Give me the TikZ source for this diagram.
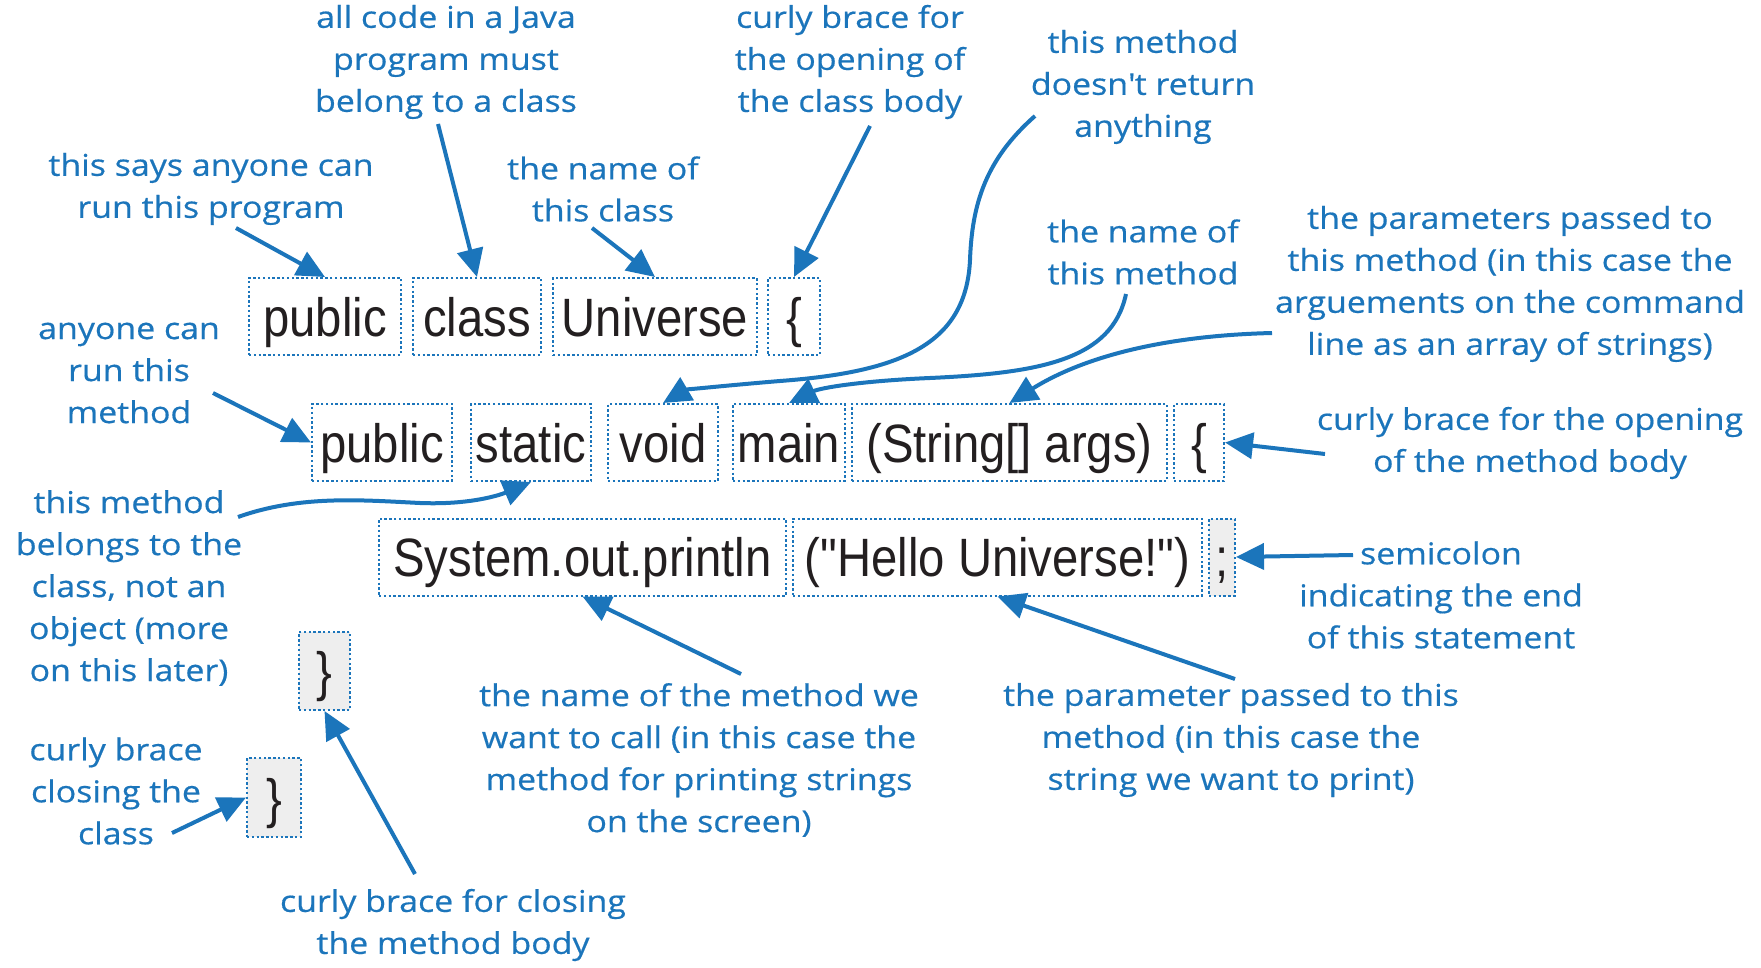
\documentclass[tikz,border=0pt]{standalone}
\usepackage{fontspec}
\setmainfont[FakeStretch=1.13, FakeBold=0.5]{Open Sans}
\newfontfamily\codefont[FakeStretch=0.875]{Liberation Sans}
\usetikzlibrary{arrows.meta}
\definecolor{bluepen}{RGB}{27,117,187}
\definecolor{ink}{RGB}{35,31,32}
\definecolor{shade}{RGB}{238,238,238}

\begin{document}
\begin{tikzpicture}[x=1pt,y=-1pt,
  codebox/.style={draw=bluepen, line width=2pt, dash pattern=on 2.4pt off 2.4pt,
    fill=white, inner sep=0pt, minimum height=77pt, text=ink,
    font=\codefont\fontsize{54}{60}\selectfont, text height=39pt, text depth=0pt},
  graybox/.style={codebox, fill=shade},
  remark/.style={text=bluepen, align=center, inner sep=0pt,
    font=\fontsize{30}{42}\selectfont},
  ptr/.style={draw=bluepen, line width=4pt, -{Triangle[length=28pt,width=26pt]}},
]
\useasboundingbox[fill=white] (0,0) rectangle (1761,968);

% ---- code boxes ----
% class header
\node[codebox, minimum width=152pt] (pub1) at (325,316.5) {public};
\node[codebox, minimum width=128pt] (cls)  at (477,316.5) {class};
\node[codebox, minimum width=204pt] (uni)  at (655,316.5) {Universe};
\node[codebox, minimum width=52pt]  (lb1)  at (794,316.5) {\{};
% method header
\node[codebox, minimum width=140pt] (pub2)  at (382,442.5) {public};
\node[codebox, minimum width=120pt] (stat)  at (531,442.5) {static};
\node[codebox, minimum width=110pt] (void)  at (663,442.5) {void};
\node[codebox, minimum width=112pt] (mainm) at (789,442.5) {main};
\node[codebox, minimum width=315pt] (args)  at (1009.5,442.5) {(String[] args)};
\node[codebox, minimum width=50pt]  (lb2)   at (1199,442.5) {\{};
% statement
\node[codebox, minimum width=407pt] (sys)   at (582.5,557) {System.out.println};
\node[codebox, minimum width=409pt] (hello) at (997.5,557) {("Hello Universe!")};
\node[graybox, minimum width=26pt]  (semi)  at (1222,557) {;};
% closing braces
\node[graybox, minimum width=51pt, minimum height=78pt] (rb1) at (324.5,671) {\}};
\node[graybox, minimum width=54pt, minimum height=79pt] (rb2) at (274,797.5) {\}};

% ---- notes ----
\node[remark] (nJava)   at (446,62)   {all code in a Java\\program must\\belong to a class};
\node[remark] (nBrace1) at (850,62)   {curly brace for\\the opening of\\the class body};
\node[remark] (nVoid)   at (1143,87)  {this method\\doesn\textquotesingle t return\\anything};
\node[remark] (nPublic) at (211,189)  {this says anyone can\\run this program};
\node[remark] (nName)   at (603,189)  {the name of\\this class};
\node[remark] (nMain)   at (1143,252) {the name of\\this method};
\node[remark] (nArgs)   at (1510,284) {the parameters passed to\\this method (in this case the\\arguements on the command\\line as an array of strings)};
\node[remark] (nRun)    at (129,373)  {anyone can\\run this\\method};
\node[remark] (nBrace2) at (1530,443) {curly brace for the opening\\of the method body};
\node[remark] (nStatic) at (129,588)  {this method\\belongs to the\\class, not an\\object (more\\on this later)};
\node[remark] (nSemi)   at (1441,595) {semicolon\\indicating the end\\of this statement};
\node[remark] (nCall)   at (699,760)  {the name of the method we\\want to call (in this case the\\method for printing strings\\on the screen)};
\node[remark] (nParam)  at (1231,740) {the parameter passed to this\\method (in this case the\\string we want to print)};
\node[remark] (nClose1) at (116,791)  {curly brace\\closing the\\class};
\node[remark] (nClose2) at (453,925)  {curly brace for closing\\the method body};

% ---- arrow tails ----
\coordinate (tPublic) at (236,228);
\coordinate (tJava)   at (438,124);
\coordinate (tName)   at (592,228);
\coordinate (tBrace1) at (870,126);
\coordinate (tVoid)   at (1035,116);
\coordinate (tMain)   at (1126,294);
\coordinate (tArgs)   at (1272,333);
\coordinate (tRun)    at (213,393);
\coordinate (tBrace2) at (1325,454);
\coordinate (tStatic) at (238,517);
\coordinate (tSemi)   at (1353,555);
\coordinate (tCall)   at (741,674);
\coordinate (tParam)  at (1235,679);
\coordinate (tClose1) at (172,833);
\coordinate (tClose2) at (415,874);

% ---- arrows ----
\draw[ptr] (tPublic) -- (pub1.north);
\draw[ptr] (tJava)   -- (cls.north);
\draw[ptr] (tName)   -- (uni.north);
\draw[ptr] (tBrace1) -- (lb1.north);
\draw[ptr] (tVoid) .. controls (985,160) and (972,205) .. (970,260)
                   .. controls (966,345) and (900,372) .. (780,381)
                   .. controls (720,386) and (685,390) .. (void.north);
\draw[ptr] (tMain) .. controls (1112,360) and (1040,373) .. (930,378)
                   .. controls (860,381) and (820,388) .. (mainm.north);
\draw[ptr] (tArgs) .. controls (1150,336) and (1075,362) .. (args.north);
\draw[ptr] (tRun)    -- (pub2.west);
\draw[ptr] (tBrace2) -- (lb2.east);
\draw[ptr] (tStatic) .. controls (300,495) and (360,500) .. (420,503)
                     .. controls (470,505) and (500,495) .. (stat.south);
\draw[ptr] (tSemi)   -- (semi.east);
\draw[ptr] (tCall)   -- (sys.south);
\draw[ptr] (tParam)  -- (hello.south);
\draw[ptr] (tClose1) -- (rb2.west);
\draw[ptr] (tClose2) -- (rb1.south);
\end{tikzpicture}
\end{document}
